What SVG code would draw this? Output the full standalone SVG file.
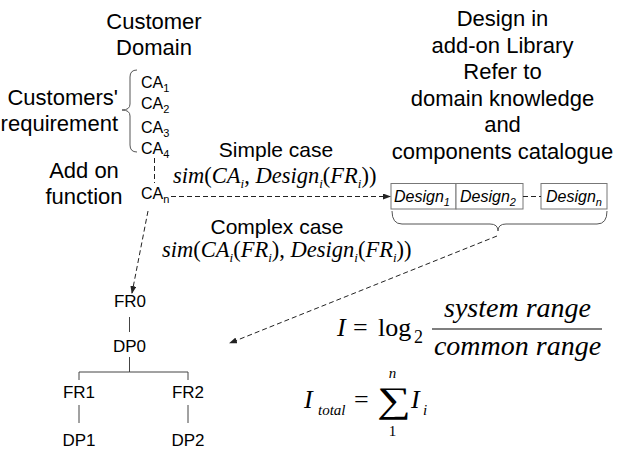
<svg xmlns="http://www.w3.org/2000/svg" width="618" height="450" viewBox="0 0 618 450">
<defs>
<marker id="arr" markerWidth="8" markerHeight="6" refX="7" refY="3" orient="auto" markerUnits="userSpaceOnUse">
<path d="M0,0 L8,3 L0,6 Z" fill="#222"/>
</marker>
<style>
.s{font-family:"Liberation Sans",Arial,sans-serif;fill:#000}
.h{font-size:22px}
.c{font-size:21px}
.ca{font-size:16px}
.t{font-size:17px}
.sub{font-size:11px}
.m{font-family:"Liberation Serif","Times New Roman",serif;fill:#000}
.it{font-style:italic}
.dash{fill:none;stroke:#222;stroke-width:1;stroke-dasharray:5,3}
.ln{fill:none;stroke:#444;stroke-width:1}
.box{fill:#fff;stroke:#777;stroke-width:1}
.br{fill:none;stroke:#555;stroke-width:1}
</style>
</defs>

<g id="customer-domain">
<text class="s h" x="154" y="29" text-anchor="middle">Customer</text>
<text class="s h" x="154" y="55" text-anchor="middle">Domain</text>
</g>

<g id="customers-requirement">
<text class="s h" x="118" y="105" text-anchor="end">Customers'</text>
<text class="s h" x="118" y="131" text-anchor="end">requirement</text>
<path class="br" d="M137,70 Q130,70 130,77 L130,104 Q130,110 122,110 Q130,110 130,116 L130,145 Q130,152 137,152"/>
</g>

<g id="ca-list">
<text class="s ca" x="141" y="88">CA<tspan class="sub" dy="4">1</tspan></text>
<text class="s ca" x="141" y="109">CA<tspan class="sub" dy="4">2</tspan></text>
<text class="s ca" x="141" y="133">CA<tspan class="sub" dy="4">3</tspan></text>
<text class="s ca" x="141" y="154">CA<tspan class="sub" dy="4">4</tspan></text>
</g>

<g id="add-on">
<text class="s h" x="84" y="178" text-anchor="middle">Add on</text>
<text class="s h" x="84" y="204" text-anchor="middle">function</text>
</g>

<g id="ca-n">
<text class="s ca" x="141" y="199">CA<tspan class="sub" dy="4">n</tspan></text>
</g>

<g id="library-text">
<text class="s h" x="502.5" y="26" text-anchor="middle">Design in</text>
<text class="s h" x="502.5" y="52.5" text-anchor="middle">add-on Library</text>
<text class="s h" x="502.5" y="79" text-anchor="middle">Refer to</text>
<text class="s h" x="502.5" y="105.5" text-anchor="middle">domain knowledge</text>
<text class="s h" x="502.5" y="132" text-anchor="middle">and</text>
<text class="s h" x="502.5" y="158.5" text-anchor="middle">components catalogue</text>
</g>

<g id="simple-case">
<text class="s c" x="276" y="157" text-anchor="middle">Simple case</text>
<text class="m" font-size="22.5" x="173" y="183"><tspan class="it">sim</tspan>(<tspan class="it">CA</tspan><tspan class="it" font-size="13" dy="5">i</tspan><tspan dy="-5">, </tspan><tspan class="it">Design</tspan><tspan class="it" font-size="13" dy="5">i</tspan><tspan dy="-5">(</tspan><tspan class="it">FR</tspan><tspan class="it" font-size="13" dy="5">i</tspan><tspan dy="-5">))</tspan></text>
</g>

<g id="complex-case">
<text class="s c" x="277" y="234" text-anchor="middle">Complex case</text>
<text class="m" font-size="22.5" x="162" y="257"><tspan class="it">sim</tspan>(<tspan class="it">CA</tspan><tspan class="it" font-size="13" dy="5">i</tspan><tspan dy="-5">(</tspan><tspan class="it">FR</tspan><tspan class="it" font-size="13" dy="5">i</tspan><tspan dy="-5">), </tspan><tspan class="it">Design</tspan><tspan class="it" font-size="13" dy="5">i</tspan><tspan dy="-5">(</tspan><tspan class="it">FR</tspan><tspan class="it" font-size="13" dy="5">i</tspan><tspan dy="-5">))</tspan></text>
</g>

<g id="design-library">
<rect class="box" x="391" y="183.5" width="65" height="25.5"/>
<rect class="box" x="456" y="183.5" width="67" height="25.5"/>
<rect class="box" x="541" y="183.5" width="66" height="25.5"/>
<text class="s ca it" x="394" y="202">Design<tspan class="sub" dy="4">1</tspan></text>
<text class="s ca it" x="460" y="202">Design<tspan class="sub" dy="4">2</tspan></text>
<text class="s ca it" x="546" y="202">Design<tspan class="sub" dy="4">n</tspan></text>
<path class="br" d="M392,211 Q392,224 402,224 L490,224 Q498,224 498,231 Q498,224 506,224 L597,224 Q607,224 607,211"/>
</g>

<g id="fr0"><text class="s t" x="130" y="307" text-anchor="middle">FR0</text></g>
<g id="dp0"><text class="s t" x="129.5" y="352" text-anchor="middle">DP0</text></g>
<g id="fr1"><text class="s t" x="79" y="398" text-anchor="middle">FR1</text></g>
<g id="fr2"><text class="s t" x="188" y="398" text-anchor="middle">FR2</text></g>
<g id="dp1"><text class="s t" x="79" y="446" text-anchor="middle">DP1</text></g>
<g id="dp2"><text class="s t" x="188" y="446" text-anchor="middle">DP2</text></g>

<g id="formula-i">
<text class="m it" font-size="26" x="337" y="336">I</text>
<text class="m" font-size="26" x="353" y="336">=</text>
<text class="m" font-size="26" x="378" y="336">log</text>
<text class="m" font-size="18" x="414" y="343">2</text>
<line x1="432" y1="329" x2="602" y2="329" stroke="#000" stroke-width="1.2"/>
<text class="m it" font-size="28" x="517.5" y="317" text-anchor="middle">system range</text>
<text class="m it" font-size="28" x="517.5" y="355" text-anchor="middle">common range</text>
</g>

<g id="formula-total">
<text class="m it" font-size="26" x="304" y="408">I</text>
<text class="m it" font-size="15" x="318" y="415">total</text>
<text class="m" font-size="26" x="354" y="408">=</text>
<text class="m" font-size="36" x="377" y="412" transform="translate(377,412) scale(1.32,1) translate(-377,-412)">∑</text>
<text class="m it" font-size="15" x="392.5" y="378" text-anchor="middle">n</text>
<text class="m" font-size="15" x="392.5" y="436" text-anchor="middle">1</text>
<text class="m it" font-size="26" x="411" y="408">I</text>
<text class="m it" font-size="15" x="423" y="415">i</text>
</g>

<g id="connectors">
<line class="dash" x1="154.5" y1="158" x2="154.5" y2="183"/>
<line class="dash" x1="171" y1="196.5" x2="390" y2="196.5" marker-end="url(#arr)"/>
<line class="dash" x1="523" y1="196.5" x2="541" y2="196.5"/>
<line class="dash" x1="148" y1="211" x2="132" y2="293" marker-end="url(#arr)"/>
<line class="dash" x1="497" y1="236" x2="230" y2="343" marker-end="url(#arr)"/>
<line class="ln" x1="129.5" y1="317" x2="129.5" y2="332"/>
<polyline class="ln" points="129.5,357 129.5,372 79,372 79,380"/>
<polyline class="ln" points="129.5,372 188,372 188,380"/>
<line class="ln" x1="79" y1="405" x2="79" y2="423"/>
<line class="ln" x1="188" y1="405" x2="188" y2="423"/>
</g>
</svg>
